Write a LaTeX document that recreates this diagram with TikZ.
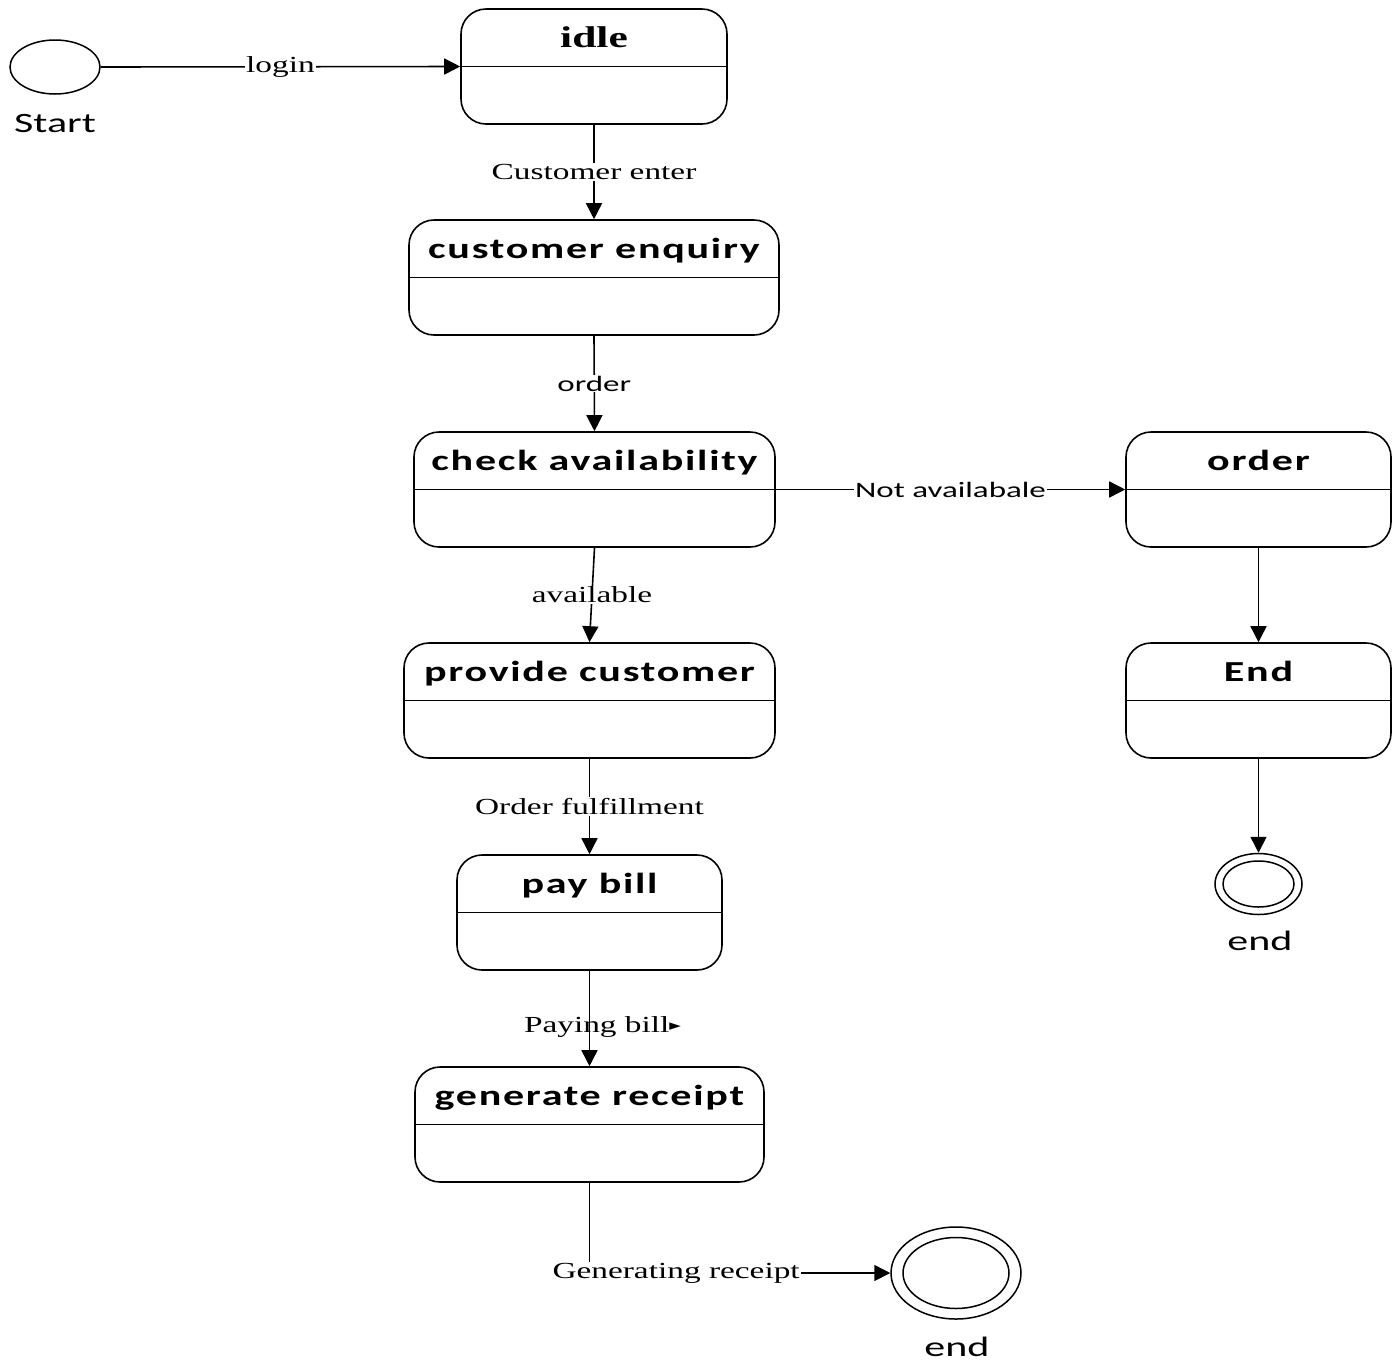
\documentclass[tikz,border=0pt]{standalone}
\usepackage{fontspec}
\usetikzlibrary{shapes.geometric,arrows.meta}
\newfontfamily\titlefont[FakeStretch=1.45,LetterSpace=6]{Carlito}
\newfontfamily\serifwide[FakeStretch=1.45]{Liberation Serif}
\newfontfamily\sanswide[FakeStretch=1.5]{Carlito}
\newfontfamily\symfont{DejaVu Sans}

% one UML state: name, x, y, width, title (title style optional)
\newcommand\umlstate[6][title]{%
  \node[state,minimum width=#5] (#2) at (#3,#4) {};
  \draw[line width=1.6pt] (#2.west) -- (#2.east);
  \node[#1,anchor=base] (#2-t) at ([yshift=19pt]#2.center) {#6};
}

\begin{document}
\begin{tikzpicture}[x=1pt,y=-1pt,
  state/.style={draw,rounded corners=25pt,line width=1.6pt,minimum height=115pt,inner sep=0pt},
  title/.style={font=\titlefont\bfseries\fontsize{29}{33}\selectfont,inner sep=0pt},
  seriftitle/.style={font=\serifwide\bfseries\fontsize{30}{34}\selectfont,inner sep=0pt},
  trans/.style={-{Triangle[length=16pt,width=16pt]},line width=1.6pt},
  lbl/.style={font=\serifwide\fontsize{23}{26}\selectfont,fill=white,inner sep=1pt},
  lblsans/.style={font=\sanswide\fontsize{22}{26}\selectfont,fill=white,inner sep=1pt},
  caption/.style={font=\sanswide\fontsize{28}{32}\selectfont,inner sep=0pt},
  pseudo/.style={draw,ellipse,line width=1.5pt,inner sep=0pt}]
\useasboundingbox (0,0) rectangle (1393,1361);

% initial pseudo-state
\node[pseudo,minimum width=90pt,minimum height=54pt] (start) at (55,67) {};
\node[caption] (startlbl) at (55,124) {Start};

% states
\umlstate[seriftitle]{idle}{594}{66.5}{266pt}{idle}
\umlstate{custenq}{594}{277.5}{370pt}{customer enquiry}
\umlstate{check}{594.5}{489.5}{361pt}{check availability}
\umlstate{order}{1258.5}{489.5}{265pt}{order}
\umlstate{endst}{1258.5}{700.5}{265pt}{End}
\umlstate{provide}{589.5}{700.5}{371pt}{provide customer}
\umlstate{paybill}{589.5}{912.5}{265pt}{pay bill}
\umlstate{genrec}{589.5}{1124.5}{349pt}{generate receipt}

% final states
\node[pseudo,minimum width=87pt,minimum height=61pt] (fin2) at (1258.5,884) {};
\node[pseudo,minimum width=71pt,minimum height=46pt] (fin2in) at (fin2.center) {};
\node[caption] (fin2lbl) at (1260,941) {end};
\node[pseudo,minimum width=130pt,minimum height=92pt] (fin1) at (956,1273) {};
\node[pseudo,minimum width=106pt,minimum height=71pt] (fin1in) at (fin1.center) {};
\node[caption] (fin1lbl) at (957,1347) {end};

% transitions
\draw[trans] (start.east) -- (idle.west) node[lbl,midway] {login};
\draw[trans] (idle.south) -- (custenq.north) node[lbl,midway] {Customer enter};
\draw[trans] (custenq.south) -- (check.north) node[lblsans,midway] {order};
\draw[trans] (check.south) -- (provide.north) node[lbl,midway] {available};
\draw[trans] (check.east) -- (order.west) node[lblsans,midway] {Not availabale};
\draw[trans] (order.south) -- (endst.north);
\draw[trans] (endst.south) -- (fin2.north);
\draw[trans] (provide.south) -- (paybill.north) node[lbl,midway] {Order fulfillment};
\draw[trans] (paybill.south) -- (genrec.north)
  node[lbl,fill=none,pos=0.588,xshift=13pt]
  {Paying bill{\symfont\fontsize{15}{15}\selectfont\raisebox{1.5pt}{►}}};
\draw[trans] (genrec.south) |- (fin1.west) node[lbl,pos=0.644] {Generating receipt};
\end{tikzpicture}
\end{document}
